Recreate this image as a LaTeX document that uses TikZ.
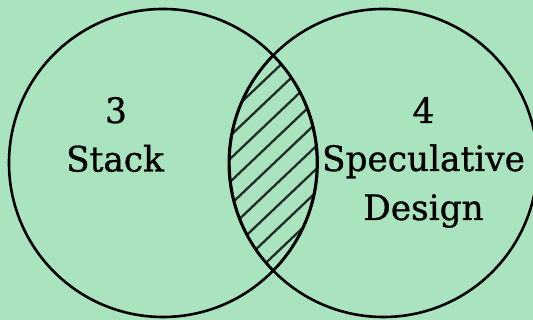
\documentclass[tikz,border=0pt]{standalone}
\usepackage{fontspec}
\setmainfont{DejaVu Serif}
\newfontfamily\labelfont[FakeStretch=0.98,FakeBold=0.9]{DejaVu Serif}
\definecolor{bgg}{RGB}{169,228,191}
\begin{document}
\begin{tikzpicture}[x=1pt,y=1pt,
  ring/.style={draw=black,line width=2.6pt},
  hatchline/.style={draw=black,line width=2.3pt,opacity=0.8},
  lbl/.style={font=\labelfont\fontsize{35}{40}\selectfont,anchor=base,inner sep=0pt}]
\fill[bgg] (0,0) rectangle (533,320);
\useasboundingbox (0,0) rectangle (533,320);
\coordinate (cl) at (163,157);
\coordinate (cr) at (383.4,157);
% hatch in the lens
\begin{scope}
  \clip (cl) circle[radius=154pt];
  \clip (cr) circle[radius=154pt];
  \foreach \k in {-9,...,6}{
    \draw[hatchline] (210,{188.3+23*\k+0.95*(210-234.5)}) -- (340,{188.3+23*\k+0.95*(340-234.5)});
  }
\end{scope}
\draw[ring] (cl) circle[radius=154pt];
\draw[ring] (cr) circle[radius=154pt];
% second lens outline
\draw[ring] (273.2,49.4) arc[start angle=-44.84,end angle=44.84,radius=152.6pt]
  arc[start angle=135.16,end angle=224.84,radius=152.6pt] -- cycle;
\node[lbl] (n3) at (116,197) {3};
\node[lbl] (stack) at (115,148.5) {Stack};
\node[lbl] (n4) at (423.5,197) {4};
\node[lbl] (spec) at (423.5,149) {Speculative};
\node[lbl] (design) at (423.5,100) {Design};
\end{tikzpicture}
\end{document}
